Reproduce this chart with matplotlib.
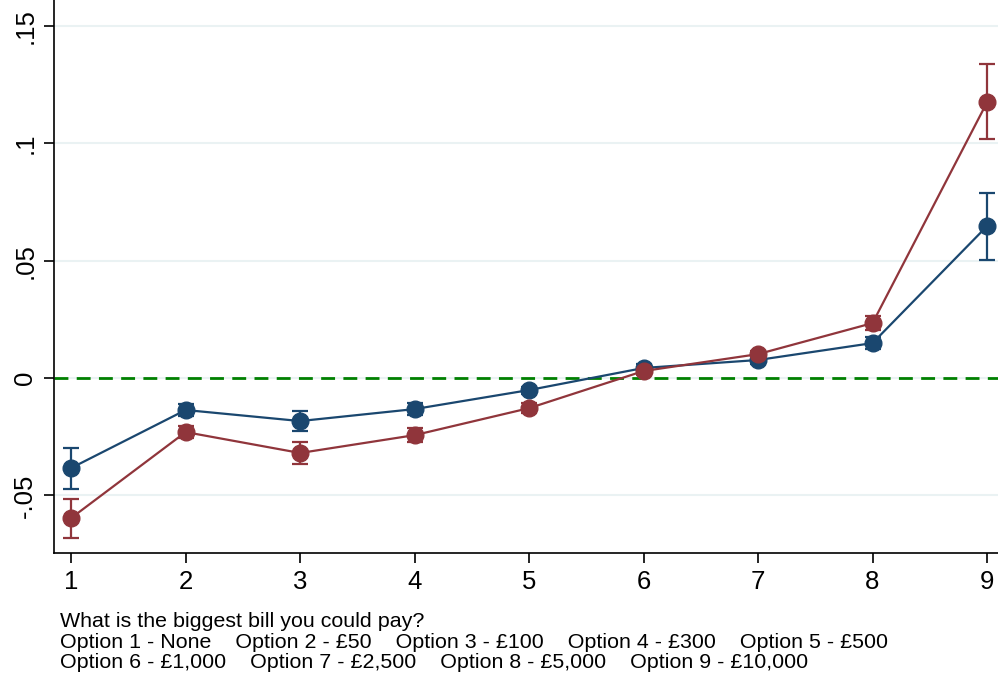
import numpy as np
import matplotlib.pyplot as plt

plt.rcParams['font.family'] = ['Liberation Sans', 'DejaVu Sans']

# bill options on the x axis
options = [1, 2, 3, 4, 5, 6, 7, 8, 9]

# first group: point estimates and 95% CI bounds
blue_est = [-0.0383, -0.0136, -0.0183, -0.0132, -0.0051, 0.0043, 0.0077, 0.0149, 0.0647]
blue_lo = [-0.0472, -0.0163, -0.0226, -0.0158, -0.0066, 0.0028, 0.0062, 0.0122, 0.0502]
blue_hi = [-0.0298, -0.0109, -0.0140, -0.0106, -0.0036, 0.0058, 0.0092, 0.0176, 0.0787]

# second group
red_est = [-0.0596, -0.0230, -0.0319, -0.0243, -0.0128, 0.0030, 0.0102, 0.0234, 0.1174]
red_lo = [-0.0680, -0.0256, -0.0366, -0.0273, -0.0148, 0.0015, 0.0087, 0.0204, 0.1017]
red_hi = [-0.0515, -0.0204, -0.0272, -0.0213, -0.0108, 0.0045, 0.0117, 0.0264, 0.1336]

yticks = [-0.05, 0, 0.05, 0.1, 0.15]
ytick_labels = ['-.05', '0', '.05', '.1', '.15']

note = ("What is the biggest bill you could pay?\n"
        "Option 1 - None    Option 2 - £50    Option 3 - £100    Option 4 - £300    Option 5 - £500\n"
        "Option 6 - £1,000    Option 7 - £2,500    Option 8 - £5,000    Option 9 - £10,000")

BLUE = '#1a476f'
RED = '#90353b'

fig = plt.figure(figsize=(9.98, 6.75), dpi=100)
ax = fig.add_axes([0.0541, 0.1807, 0.9459, 0.8193])

for y in yticks:
    ax.axhline(y, color='#eaf2f3', lw=1.5, zorder=0)
ax.axhline(0, color='#008000', lw=2, ls=(0, (5, 3)), zorder=1)

for est, lo, hi, col in [(blue_est, blue_lo, blue_hi, BLUE), (red_est, red_lo, red_hi, RED)]:
    est = np.array(est)
    err = [est - np.array(lo), np.array(hi) - est]
    ax.errorbar(options, est, yerr=err, color=col, lw=1.6, marker='o', ms=12,
                elinewidth=1.6, capsize=5.5, capthick=1.6, zorder=3)

ax.set_xlim(0.85, 9.096)
ax.set_ylim(-0.0745, 0.161)
ax.set_xticks(options)
ax.set_yticks(yticks)
ax.set_yticklabels(ytick_labels, rotation=90, va='center')
ax.tick_params(labelsize=18.5, length=7, width=1.2, pad=5)

for side in ['top', 'right']:
    ax.spines[side].set_visible(False)
for side in ['left', 'bottom']:
    ax.spines[side].set_linewidth(1.2)

fig.text(0.06, 0.094, note, fontsize=15.4, va='top', ha='left', linespacing=1.13)

fig.savefig('out.png', dpi=100)
